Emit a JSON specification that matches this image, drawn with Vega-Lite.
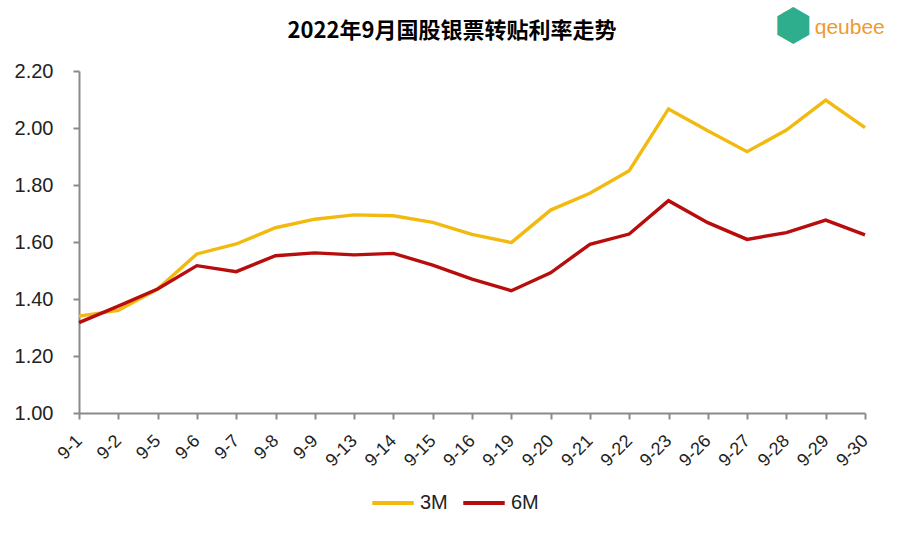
{
  "$schema": "https://vega.github.io/schema/vega-lite/v6.json",
  "width": 786,
  "height": 342,
  "autosize": {"type": "none"},
  "padding": {"left": 79, "top": 71, "right": 39, "bottom": 120},
  "background": "white",
  "title": {
    "text": "2022年9月国股银票转贴利率走势",
    "font": "Noto Sans CJK SC",
    "fontSize": 22,
    "fontWeight": "bold",
    "color": "black",
    "anchor": "middle",
    "dx": -20,
    "offset": -38
  },
  "config": {
    "view": {"stroke": null},
    "font": "Liberation Sans"
  },
  "data": {
    "values": [
      {"date": "9-1", "term": "3M", "rate": 1.34},
      {"date": "9-2", "term": "3M", "rate": 1.36},
      {"date": "9-5", "term": "3M", "rate": 1.435},
      {"date": "9-6", "term": "3M", "rate": 1.558},
      {"date": "9-7", "term": "3M", "rate": 1.593},
      {"date": "9-8", "term": "3M", "rate": 1.65},
      {"date": "9-9", "term": "3M", "rate": 1.68},
      {"date": "9-13", "term": "3M", "rate": 1.695},
      {"date": "9-14", "term": "3M", "rate": 1.692},
      {"date": "9-15", "term": "3M", "rate": 1.669},
      {"date": "9-16", "term": "3M", "rate": 1.627},
      {"date": "9-19", "term": "3M", "rate": 1.598},
      {"date": "9-20", "term": "3M", "rate": 1.712},
      {"date": "9-21", "term": "3M", "rate": 1.771},
      {"date": "9-22", "term": "3M", "rate": 1.85},
      {"date": "9-23", "term": "3M", "rate": 2.067},
      {"date": "9-26", "term": "3M", "rate": 1.99},
      {"date": "9-27", "term": "3M", "rate": 1.917},
      {"date": "9-28", "term": "3M", "rate": 1.993},
      {"date": "9-29", "term": "3M", "rate": 2.098},
      {"date": "9-30", "term": "3M", "rate": 2.001},
      {"date": "9-1", "term": "6M", "rate": 1.317},
      {"date": "9-2", "term": "6M", "rate": 1.375},
      {"date": "9-5", "term": "6M", "rate": 1.435},
      {"date": "9-6", "term": "6M", "rate": 1.517},
      {"date": "9-7", "term": "6M", "rate": 1.496},
      {"date": "9-8", "term": "6M", "rate": 1.552},
      {"date": "9-9", "term": "6M", "rate": 1.562},
      {"date": "9-13", "term": "6M", "rate": 1.555},
      {"date": "9-14", "term": "6M", "rate": 1.56},
      {"date": "9-15", "term": "6M", "rate": 1.519},
      {"date": "9-16", "term": "6M", "rate": 1.47},
      {"date": "9-19", "term": "6M", "rate": 1.429},
      {"date": "9-20", "term": "6M", "rate": 1.492},
      {"date": "9-21", "term": "6M", "rate": 1.592},
      {"date": "9-22", "term": "6M", "rate": 1.628},
      {"date": "9-23", "term": "6M", "rate": 1.745},
      {"date": "9-26", "term": "6M", "rate": 1.668},
      {"date": "9-27", "term": "6M", "rate": 1.609},
      {"date": "9-28", "term": "6M", "rate": 1.633},
      {"date": "9-29", "term": "6M", "rate": 1.677},
      {"date": "9-30", "term": "6M", "rate": 1.625}
    ]
  },
  "layer": [
    {
      "mark": {"type": "line", "strokeWidth": 3.4},
      "encoding": {
        "x": {
          "field": "date",
          "type": "ordinal",
          "sort": null,
          "scale": {"type": "point", "padding": 0},
          "axis": {
            "title": null,
            "labelAngle": -45,
            "labelAlign": "right",
            "labelBaseline": "middle",
            "labelFontSize": 18,
            "labelColor": "#222222",
            "labelPadding": 19,
            "domainColor": "#8a8a8a",
            "domainWidth": 2,
            "tickColor": "#8a8a8a",
            "tickWidth": 2,
            "tickSize": 6
          }
        },
        "y": {
          "field": "rate",
          "type": "quantitative",
          "scale": {"domain": [1, 2.2], "nice": false, "zero": false},
          "axis": {
            "title": null,
            "values": [1, 1.2, 1.4, 1.6, 1.8, 2, 2.2],
            "format": ".2f",
            "grid": false,
            "labelFontSize": 20,
            "labelColor": "#222222",
            "labelPadding": 20,
            "domainColor": "#8a8a8a",
            "domainWidth": 2,
            "tickColor": "#8a8a8a",
            "tickWidth": 2,
            "tickSize": 6
          }
        },
        "color": {
          "field": "term",
          "type": "nominal",
          "scale": {"domain": ["3M", "6M"], "range": ["#F2B90F", "#B80D0D"]},
          "legend": {
            "title": null,
            "orient": "none",
            "legendX": 291,
            "legendY": 409,
            "direction": "horizontal",
            "symbolType": "stroke",
            "symbolSize": 1720,
            "symbolStrokeWidth": 4,
            "labelFontSize": 20,
            "labelColor": "#222222",
            "labelOffset": 4,
            "columnPadding": 7
          }
        }
      }
    },
    {
      "data": {"values": [{"logo": "qeubee"}]},
      "mark": {
        "type": "text",
        "font": "Liberation Sans",
        "fontSize": 21,
        "color": "#EE9A2E",
        "align": "left",
        "baseline": "middle",
        "dx": -11,
        "dy": -43
      },
      "encoding": {
        "text": {"field": "logo"},
        "x": {"datum": "9-29"},
        "y": {"datum": 2.2}
      }
    },
    {
      "data": {"values": [{"icon": "⬢"}]},
      "mark": {
        "type": "text",
        "fontSize": 44,
        "color": "#2EAE8C",
        "align": "right",
        "baseline": "middle",
        "dx": -14,
        "dy": -44
      },
      "encoding": {
        "text": {"field": "icon"},
        "x": {"datum": "9-29"},
        "y": {"datum": 2.2}
      }
    }
  ]
}
